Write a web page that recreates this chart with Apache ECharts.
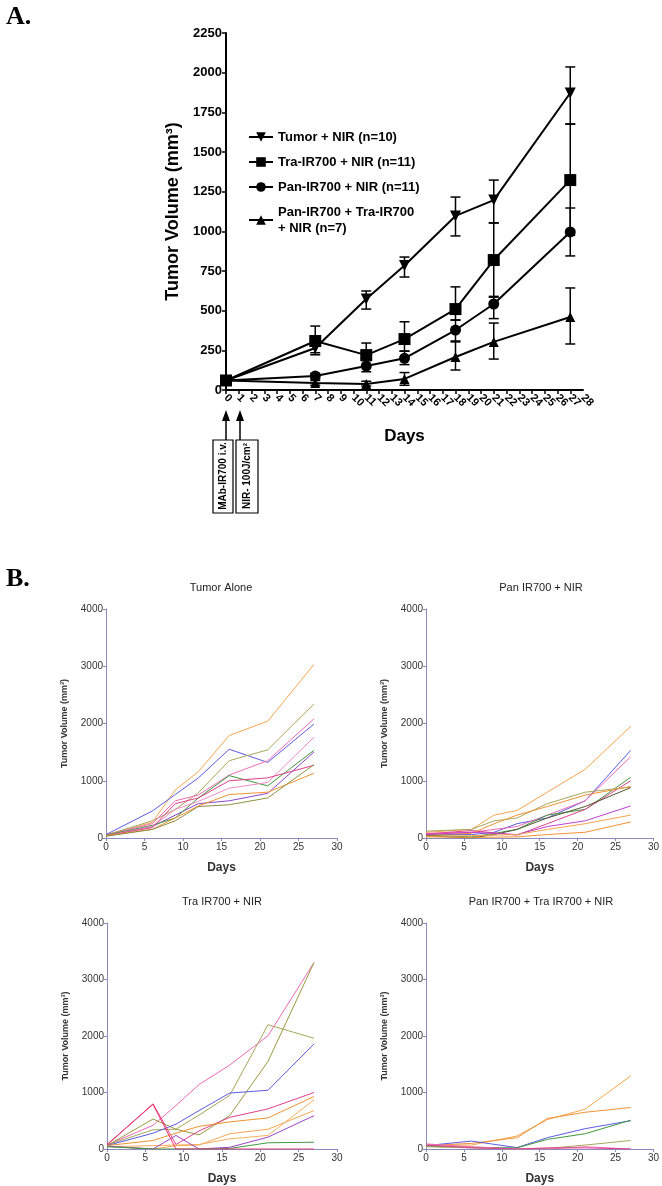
<!DOCTYPE html>
<html><head><meta charset="utf-8">
<script src="https://cdn.jsdelivr.net/npm/echarts@6/dist/echarts.min.js"></script>
<style>html,body{margin:0;padding:0;background:#fff}#c{width:662px;height:1186px}</style>
</head><body><div id="c"></div>
<script>
// ---------- Panel A data ----------
const daysA = [0, 7, 11, 14, 18, 21, 27];
const groupNames = ['Tumor + NIR (n=10)', 'Tra-IR700 + NIR (n=11)', 'Pan-IR700 + NIR (n=11)', 'Pan-IR700 + Tra-IR700\n+ NIR (n=7)'];
const tumorMean = [60, 265, 574, 785, 1097, 1197, 1872];
const tumorLow  = [60, 222, 510, 712, 971, 1053, 1676];
const tumorHigh = [60, 300, 624, 838, 1216, 1323, 2036];
const traMean = [60, 309, 220, 321, 510, 819, 1323];
const traLow  = [60, 235, 150, 245, 441, 590, 975];
const traHigh = [60, 403, 296, 430, 650, 1053, 1676];
const panMean = [60, 88, 151, 200, 378, 542, 996];
const panLow  = [60, 70, 115, 160, 309, 450, 845];
const panHigh = [60, 105, 185, 245, 441, 585, 1147];
const comboMean = [60, 44, 38, 70, 208, 303, 460];
const comboLow  = [60, 30, 25, 30, 126, 195, 290];
const comboHigh = [60, 60, 55, 110, 303, 422, 643];
const yTicksA = [0, 250, 500, 750, 1000, 1250, 1500, 1750, 2000, 2250];
const xMaxA = 28;

// ---------- Panel B data ----------
const panelTitles = ['Tumor Alone', 'Pan IR700 + NIR', 'Tra IR700 + NIR', 'Pan IR700 + Tra IR700 + NIR'];
const daysTumorAlone = [0, 6, 9, 12, 16, 21, 27];
const tumorAlone = [
  [60, 270, 840, 1160, 1790, 2040, 3030],
  [60, 470, 760, 1050, 1550, 1320, 1990],
  [50, 300, 500, 790, 1350, 1540, 2340],
  [50, 250, 650, 750, 1100, 1350, 2080],
  [50, 200, 400, 600, 650, 780, 1500],
  [50, 220, 350, 700, 1090, 910, 1530],
  [40, 200, 500, 640, 870, 970, 1760],
  [40, 180, 600, 700, 1000, 1050, 1270],
  [40, 150, 350, 560, 760, 800, 1130],
  [30, 150, 300, 550, 580, 700, 1280]
];
const tumorAloneColors = ['#f7a54e', '#5b5be6', '#a7a75c', '#f06ab4', '#8a45c8', '#3f9a3f', '#f48cc8', '#e0408a', '#f29233', '#8f8f45'];
const daysPan = [0, 6, 9, 12, 16, 21, 27];
const panMice = [
  [100, 150, 400, 480, 800, 1200, 1950],
  [60, 60, 100, 250, 350, 650, 1530],
  [80, 100, 150, 200, 400, 650, 1420],
  [50, 20, 80, 150, 400, 500, 1060],
  [70, 130, 90, 50, 250, 500, 1000],
  [120, 150, 300, 350, 600, 800, 890],
  [40, 0, 60, 150, 350, 550, 880],
  [60, 80, 250, 400, 550, 750, 900],
  [60, 100, 80, 60, 200, 300, 560],
  [30, 40, 50, 60, 150, 250, 400],
  [20, 10, 15, 20, 60, 100, 280]
];
const panColors = ['#f7a54e', '#5b5be6', '#f06ab4', '#3f9a3f', '#e0408a', '#a7a75c', '#555533', '#f29233', '#c040d0', '#f7a54e', '#f29233'];
const daysTra = [0, 6, 9, 12, 16, 21, 27];
const traMice = [
  [70, 420, 770, 1140, 1485, 2005, 3300],
  [70, 340, 350, 600, 950, 2200, 1960],
  [60, 530, 350, 250, 590, 1550, 3300],
  [60, 280, 440, 680, 990, 1040, 1860],
  [70, 800, 80, 320, 560, 710, 1000],
  [60, 150, 280, 400, 480, 550, 930],
  [50, 0, 60, 70, 270, 350, 680],
  [40, 60, 70, 80, 180, 240, 870],
  [50, 0, 240, 0, 30, 210, 590],
  [40, 0, 0, 0, 10, 110, 120],
  [80, 790, 0, 0, 0, 0, 0]
];
const traColors = ['#f06ab4', '#a7a75c', '#9a9a40', '#5b5be6', '#e0408a', '#f29233', '#f7a54e', '#f5b060', '#9a45c8', '#3f9a3f', '#f0306a'];
const daysCombo = [0, 6, 12, 16, 21, 27];
const comboMice = [
  [70, 70, 230, 520, 705, 1295],
  [60, 100, 200, 540, 650, 735],
  [60, 140, 25, 200, 360, 500],
  [50, 30, 20, 170, 270, 510],
  [40, 20, 0, 10, 70, 150],
  [90, 40, 0, 0, 40, 0],
  [70, 20, 0, 20, 20, 0]
];
const comboColors = ['#f7a54e', '#f29233', '#5b5be6', '#3f9a3f', '#a7a75c', '#f06ab4', '#e0408a'];

// ---------- build ----------
const FONT = 'Liberation Sans, Arial, sans-serif';
const zip = (xs, ys) => xs.map((x, i) => [x, ys[i]]);
const zip3 = (xs, lo, hi) => xs.map((x, i) => [x, lo[i], hi[i]]);

const grids = [
  {left: 226, top: 33, width: 357, height: 357},
  {left: 106, top: 609, width: 231, height: 229},
  {left: 426, top: 609, width: 230, height: 229},
  {left: 107, top: 923, width: 230, height: 231},
  {left: 426, top: 923, width: 231, height: 231}
];

const labelA = {rotate: -45, fontFamily: FONT, fontWeight: 'bold', fontSize: 11, color: '#000', margin: 6, hideOverlap: false};
const xAxes = [{
  gridIndex: 0, type: 'value', min: 0, max: xMaxA, interval: 1,
  name: 'Days', nameLocation: 'middle', nameGap: 38,
  nameTextStyle: {fontFamily: FONT, fontWeight: 'bold', fontSize: 17, color: '#000'},
  axisLine: {lineStyle: {color: '#000', width: 2}},
  axisTick: {lineStyle: {color: '#000', width: 1.5}, length: 4},
  axisLabel: Object.assign({showMaxLabel: false, showMinLabel: true, formatter: v => v === xMaxA ? '' : String(v)}, labelA),
  splitLine: {show: false}
}, {
  // overlay axis that only carries the last tick label
  gridIndex: 0, type: 'value', position: 'bottom', min: 0, max: xMaxA, interval: 1,
  axisLine: {show: false}, axisTick: {show: false}, splitLine: {show: false},
  axisLabel: Object.assign({showMaxLabel: true, showMinLabel: false, formatter: v => v === xMaxA ? String(v) : ''}, labelA)
}];
const yAxes = [{
  gridIndex: 0, type: 'value', min: 0, max: 2250, interval: 250,
  name: 'Tumor Volume (mm³)', nameLocation: 'middle', nameGap: 44,
  nameTextStyle: {fontFamily: FONT, fontWeight: 'bold', fontSize: 18, color: '#000'},
  axisLine: {show: true, lineStyle: {color: '#000', width: 2}},
  axisTick: {show: true, lineStyle: {color: '#000', width: 1.5}, length: 4},
  axisLabel: {fontFamily: FONT, fontWeight: 'bold', fontSize: 13, color: '#000', margin: 4,
    formatter: v => yTicksA.includes(v) ? String(v) : ''},
  splitLine: {show: false}
}];
for (let g = 1; g <= 4; g++) {
  xAxes.push({
    gridIndex: g, type: 'value', min: 0, max: 30, interval: 5,
    name: 'Days', nameLocation: 'middle', nameGap: 24,
    nameTextStyle: {fontFamily: FONT, fontWeight: 'bold', fontSize: 12, color: '#333'},
    axisLine: {lineStyle: {color: '#8a8ac0', width: 1}},
    axisTick: {lineStyle: {color: '#8a8ac0'}, length: 3},
    axisLabel: {fontFamily: FONT, fontSize: 10, color: '#333', margin: 4, formatter: v => String(v)},
    splitLine: {show: false}
  });
  yAxes.push({
    gridIndex: g, type: 'value', min: 0, max: 4000, interval: 1000,
    name: 'Tumor Volume (mm³)', nameLocation: 'middle', nameGap: 37,
    nameTextStyle: {fontFamily: FONT, fontWeight: 'bold', fontSize: 9, color: '#333'},
    axisLine: {show: true, lineStyle: {color: '#8a8ac0', width: 1}},
    axisTick: {show: true, lineStyle: {color: '#8a8ac0'}, length: 3},
    axisLabel: {fontFamily: FONT, fontSize: 10, color: '#333', margin: 3, formatter: v => String(v)},
    splitLine: {show: false}
  });
}
// B axes are at xAxis index g+1 (because of overlay axis), yAxis index g

const series = [];
const groupsA = [
  {name: groupNames[0], mean: tumorMean, lo: tumorLow, hi: tumorHigh, symbol: 'triangle', rot: 180, size: 11},
  {name: groupNames[1], mean: traMean, lo: traLow, hi: traHigh, symbol: 'rect', rot: 0, size: 12},
  {name: groupNames[2], mean: panMean, lo: panLow, hi: panHigh, symbol: 'circle', rot: 0, size: 11},
  {name: groupNames[3], mean: comboMean, lo: comboLow, hi: comboHigh, symbol: 'triangle', rot: 0, size: 10}
];
groupsA.forEach(gr => {
  series.push({
    type: 'custom', xAxisIndex: 0, yAxisIndex: 0, silent: true, z: 1,
    data: zip3(daysA, gr.lo, gr.hi),
    renderItem: (params, api) => {
      const x = api.value(0);
      const lo = api.coord([x, api.value(1)]);
      const hi = api.coord([x, api.value(2)]);
      const st = {stroke: '#000', lineWidth: 1.5};
      return {type: 'group', children: [
        {type: 'line', shape: {x1: lo[0], y1: lo[1], x2: hi[0], y2: hi[1]}, style: st},
        {type: 'line', shape: {x1: lo[0] - 5, y1: lo[1], x2: lo[0] + 5, y2: lo[1]}, style: st},
        {type: 'line', shape: {x1: hi[0] - 5, y1: hi[1], x2: hi[0] + 5, y2: hi[1]}, style: st}
      ]};
    }
  });
  series.push({
    name: gr.name, type: 'line', xAxisIndex: 0, yAxisIndex: 0, z: 3,
    data: zip(daysA, gr.mean),
    symbol: gr.symbol, symbolRotate: gr.rot, symbolSize: gr.size,
    lineStyle: {color: '#000', width: 2}, itemStyle: {color: '#000'}
  });
});

function addSpaghetti(g, days, mice, colors) {
  mice.forEach((m, i) => series.push({
    type: 'line', xAxisIndex: g + 1, yAxisIndex: g, data: zip(days, m),
    showSymbol: false, symbol: 'none', silent: true,
    lineStyle: {color: colors[i % colors.length], width: 1}
  }));
}
addSpaghetti(1, daysTumorAlone, tumorAlone, tumorAloneColors);
addSpaghetti(2, daysPan, panMice, panColors);
addSpaghetti(3, daysTra, traMice, traColors);
addSpaghetti(4, daysCombo, comboMice, comboColors);

const titleStyle = {fontFamily: FONT, fontSize: 11, fill: '#222'};
const graphic = [
  {type: 'text', left: 6, top: 4, style: {text: 'A.', fontFamily: 'Liberation Serif, DejaVu Serif, serif', fontWeight: 'bold', fontSize: 26, fill: '#000'}},
  {type: 'text', left: 6, top: 566, style: {text: 'B.', fontFamily: 'Liberation Serif, DejaVu Serif, serif', fontWeight: 'bold', fontSize: 26, fill: '#000'}},
  {type: 'line', shape: {x1: 226, y1: 440, x2: 226, y2: 418}, style: {stroke: '#000', lineWidth: 1.5}},
  {type: 'polygon', shape: {points: [[226, 410], [222, 421], [230, 421]]}, style: {fill: '#000'}},
  {type: 'line', shape: {x1: 240, y1: 440, x2: 240, y2: 418}, style: {stroke: '#000', lineWidth: 1.5}},
  {type: 'polygon', shape: {points: [[240, 410], [236, 421], [244, 421]]}, style: {fill: '#000'}},
  {type: 'rect', shape: {x: 213, y: 440, width: 20, height: 73}, style: {fill: '#fff', stroke: '#000', lineWidth: 1.2}},
  {type: 'rect', shape: {x: 236, y: 440, width: 22, height: 73}, style: {fill: '#fff', stroke: '#000', lineWidth: 1.2}},
  {type: 'text', x: 223, y: 476, rotation: Math.PI / 2, style: {text: 'MAb-IR700 i.v.', fontFamily: FONT, fontWeight: 'bold', fontSize: 10, fill: '#000', align: 'center', verticalAlign: 'middle'}},
  {type: 'text', x: 247, y: 476, rotation: Math.PI / 2, style: {text: 'NIR- 100J/cm²', fontFamily: FONT, fontWeight: 'bold', fontSize: 10, fill: '#000', align: 'center', verticalAlign: 'middle'}},
  {type: 'text', x: 221, y: 588, style: Object.assign({text: panelTitles[0], align: 'center', verticalAlign: 'middle'}, titleStyle)},
  {type: 'text', x: 541, y: 588, style: Object.assign({text: panelTitles[1], align: 'center', verticalAlign: 'middle'}, titleStyle)},
  {type: 'text', x: 222, y: 902, style: Object.assign({text: panelTitles[2], align: 'center', verticalAlign: 'middle'}, titleStyle)},
  {type: 'text', x: 541, y: 902, style: Object.assign({text: panelTitles[3], align: 'center', verticalAlign: 'middle'}, titleStyle)}
];

const chart = echarts.init(document.getElementById('c'), null, {renderer: 'canvas'});
chart.setOption({
  animation: false,
  backgroundColor: '#fff',
  grid: grids,
  xAxis: xAxes,
  yAxis: yAxes,
  legend: {
    data: groupNames, orient: 'vertical', left: 243, top: 124,
    itemWidth: 24, itemHeight: 12, itemGap: 9,
    textStyle: {fontFamily: FONT, fontWeight: 'bold', fontSize: 13, color: '#000', lineHeight: 16}
  },
  graphic: graphic,
  series: series
});
</script>
</body></html>
